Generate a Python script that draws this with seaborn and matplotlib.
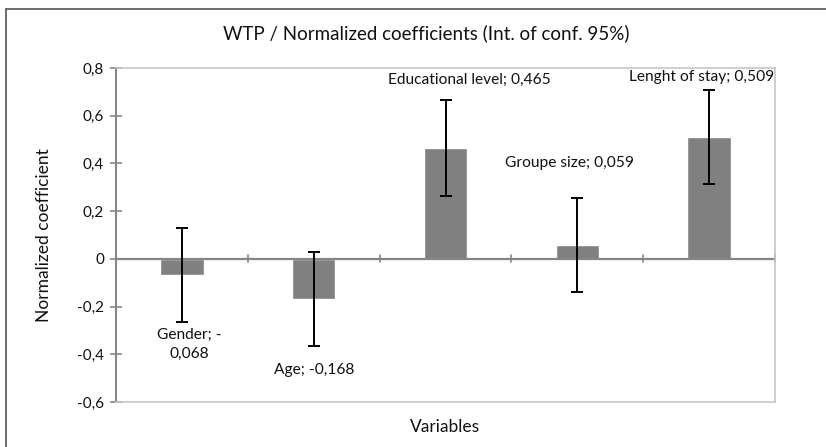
import matplotlib
matplotlib.use("Agg")
import matplotlib.pyplot as plt
import seaborn as sns
import pandas as pd
from matplotlib.lines import Line2D

variables = ["Gender", "Age", "Educational level", "Groupe size", "Lenght of stay"]
coefficients = [-0.068, -0.168, 0.465, 0.059, 0.509]
ci_half = [0.196, 0.196, 0.200, 0.197, 0.197]
y_ticks = [-0.6, -0.4, -0.2, 0, 0.2, 0.4, 0.6, 0.8]

def virgule(v):
    # format a la francaise, virgule decimale
    return f"{v:.3f}".replace(".", ",")

def tick_fmt(v):
    if abs(v) < 1e-9:
        return "0"
    return f"{v:.1f}".replace(".", ",")

df = pd.DataFrame({"variable": variables, "coef": coefficients, "ci": ci_half})

sns.set_style("white")
plt.rcParams["font.family"] = ["Lato", "DejaVu Sans"]

fig = plt.figure(figsize=(8.26, 4.47), dpi=100)
ax = fig.add_axes([0.1404, 0.1007, 0.7979, 0.7472])

sns.barplot(data=df, x="variable", y="coef", color="#808080", saturation=1,
            width=0.33, ax=ax, errorbar=None)
ax.errorbar(range(len(df)), df["coef"], yerr=df["ci"], fmt="none",
            ecolor="black", elinewidth=1.4, capsize=4.5, capthick=1.4)

ax.set_ylim(-0.6, 0.8)
ax.set_xlim(-0.5, len(df) - 0.5)
ax.set_yticks(y_ticks)
ax.set_yticklabels([tick_fmt(t) for t in y_ticks], fontsize=11, color="#111111")
ax.set_xticks([])

# axe horizontal a zero avec graduations entre categories
ax.axhline(0, color="#868686", lw=1.6, zorder=1)
for k in range(1, len(df) + 1):
    ax.plot([k - 0.5, k - 0.5], [-0.015, 0.015], color="#868686", lw=1.2,
            clip_on=False, zorder=1)

for side in ["top", "right", "bottom"]:
    ax.spines[side].set_color("#c6c6c6")
    ax.spines[side].set_linewidth(1.2)
ax.spines["left"].set_color("#868686")
ax.spines["left"].set_linewidth(1.5)
ax.tick_params(axis="y", direction="inout", length=9, width=1.2,
               color="#868686", left=True, pad=4)

# etiquettes de donnees (placement approx. comme Excel)
label_dx = [0.06, 0.0, 0.18, -0.06, -0.06]
label_y = [-0.36, -0.466, 0.75, 0.40, 0.763]
for i, (v, name) in enumerate(zip(coefficients, variables)):
    txt = f"{name}; {virgule(v)}"
    if i == 0:
        txt = txt.replace("; -", "; -\n")
    ax.text(i + label_dx[i], label_y[i], txt, ha="center", va="center",
            fontsize=11.2, linespacing=1.45, color="#111111")

ax.set_xlabel("Variables", fontsize=12.5, labelpad=12, color="#111111")
ax.set_ylabel("Normalized coefficient", fontsize=12.5, labelpad=18, color="#111111")
fig.text(0.516, 0.926, "WTP / Normalized coefficients (Int. of conf. 95%)",
         ha="center", va="center", fontsize=13.5, color="#111111")

# cadre exterieur du graphique
fig.add_artist(Line2D([6 / 826, 6 / 826], [0, 1 - 9 / 447], color="#555555", lw=1.2))
fig.add_artist(Line2D([6 / 826, 1], [1 - 9 / 447, 1 - 9 / 447], color="#555555", lw=1.2))

fig.savefig("out.png", dpi=100)
